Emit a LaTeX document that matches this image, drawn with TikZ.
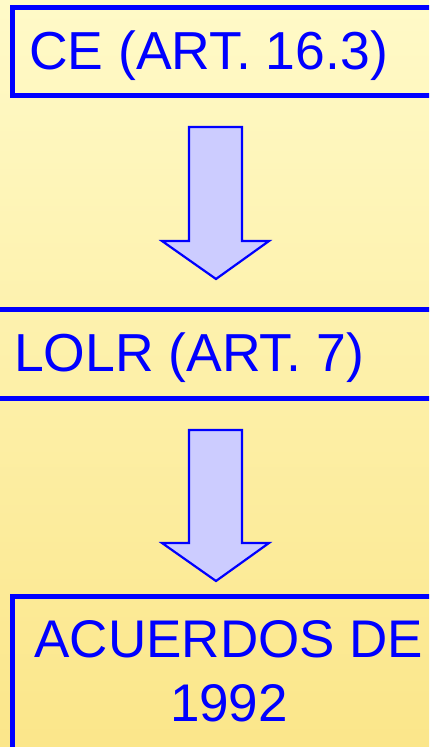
\documentclass[tikz,border=0pt]{standalone}
\usepackage{fontspec}
\setmainfont{Liberation Sans}
\definecolor{bgtop}{RGB}{255,250,200}
\definecolor{bgbot}{RGB}{251,230,138}
\definecolor{arrowfill}{RGB}{204,204,255}
\definecolor{pblue}{RGB}{0,0,255}
\tikzset{
  framebox/.style={draw=pblue, line width=5pt},
  blocktext/.style={text=pblue, inner sep=0pt, font=\fontsize{53.5}{64}\selectfont},
  blockarrow/.style={draw=pblue, fill=arrowfill, line width=2.2pt, line join=miter},
}
\begin{document}
\begin{tikzpicture}[x=1pt,y=1pt]
\useasboundingbox (0,0) rectangle (429,747);
\clip (0,0) rectangle (429,747);
\shade[top color=bgtop, bottom color=bgbot] (0,0) rectangle (429,747);
% box 1
\draw[framebox] (12,739.5) rectangle (450,651);
\node[blocktext, anchor=base west] (ce) at (29,677) {CE (ART. 16.3)};
% box 2
\draw[framebox] (-10,437.5) -- (450,437.5);
\draw[framebox] (-10,348.5) -- (450,348.5);
\node[blocktext, anchor=base west] (lolr) at (14,375) {LOLR (ART. 7)};
% box 3
\draw[framebox] (12,-20) -- (12,150) -- (450,150);
\node[blocktext, align=center, anchor=base, font=\fontsize{53}{64}\selectfont] (acu) at (229,25) {ACUERDOS DE\\1992};
% arrow 1
\draw[blockarrow] (189,620) -- (242,620) -- (242,506) -- (269,506) -- (216,468) -- (162,506) -- (189,506) -- cycle;
% arrow 2
\draw[blockarrow] (189,317) -- (242,317) -- (242,204) -- (269,204) -- (216,166) -- (162,204) -- (189,204) -- cycle;
\end{tikzpicture}
\end{document}
